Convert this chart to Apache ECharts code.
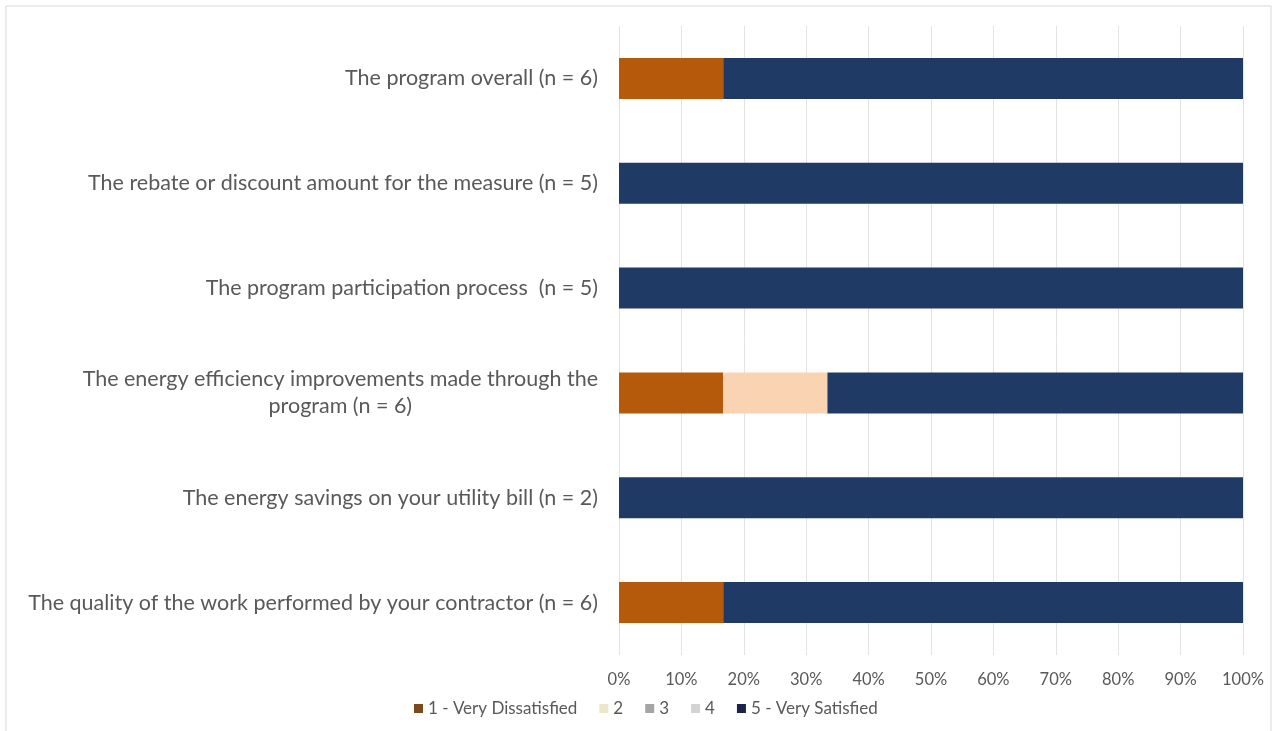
<!DOCTYPE html>
<html>
<head>
<meta charset="utf-8">
<style>
  html, body { margin: 0; padding: 0; background: #ffffff; }
  #chart { width: 1275px; height: 731px; }
</style>
<script src="https://cdn.jsdelivr.net/npm/echarts@6/dist/echarts.min.js"></script>
</head>
<body>
<div id="chart"></div>
<script>
// Satisfaction ratings by program aspect (share of respondents, %)
const categories = [
  'The program overall (n = 6)',
  'The rebate or discount amount for the measure (n = 5)',
  'The program participation process  (n = 5)',
  'The energy efficiency improvements made through the\nprogram (n = 6)',
  'The energy savings on your utility bill (n = 2)',
  'The quality of the work performed by your contractor (n = 6)'
];
const seriesNames = ['1 - Very Dissatisfied', '2', '3', '4', '5 - Very Satisfied'];
const veryDissatisfied = [16.7, 0, 0, 16.7, 0, 16.7];
const rating2 = [0, 0, 0, 16.7, 0, 0];
const rating3 = [0, 0, 0, 0, 0, 0];
const rating4 = [0, 0, 0, 0, 0, 0];
const verySatisfied = [83.3, 100, 100, 66.6, 100, 83.3];
const xTicks = [0, 10, 20, 30, 40, 50, 60, 70, 80, 90, 100];

const colors = ['#B5590B', '#F9D3B2', '#A5A5A5', '#D9D9D9', '#203A66'];
const legendColors = ['#7A4A1A', '#EDE6C8', '#A5A5A5', '#D3D3D3', '#1B2448'];
const values = [veryDissatisfied, rating2, rating3, rating4, verySatisfied];
const fontFamily = 'Lato, "Noto Sans", sans-serif';

const chart = echarts.init(document.getElementById('chart'));
chart.setOption({
  animation: false,
  backgroundColor: '#ffffff',
  textStyle: { fontFamily: fontFamily },
  graphic: [{
    type: 'rect',
    shape: { x: 6, y: 6, width: 1265, height: 740 },
    style: { fill: 'none', stroke: '#D9D9D9', lineWidth: 1 },
    silent: true
  }],
  grid: { left: 619, right: 32, top: 26, bottom: 76 },
  legend: {
    left: 409,
    top: 695,
    itemWidth: 9,
    itemHeight: 9,
    itemGap: 22,
    itemTextGap: 5,
    icon: 'rect',
    textStyle: { color: '#595959', fontSize: 17, fontFamily: fontFamily },
    data: seriesNames.map((n, i) => ({ name: n, itemStyle: { color: legendColors[i] } }))
  },
  xAxis: {
    type: 'value',
    min: xTicks[0],
    max: xTicks[xTicks.length - 1],
    interval: xTicks[1] - xTicks[0],
    axisLine: { show: false },
    axisTick: { show: false },
    axisLabel: {
      formatter: '{value}%',
      color: '#595959',
      fontSize: 16.5,
      margin: 16,
      fontFamily: fontFamily
    },
    splitLine: { show: true, lineStyle: { color: '#E3E3E3', width: 1 } }
  },
  yAxis: {
    type: 'category',
    inverse: true,
    data: categories,
    axisLine: { show: false },
    axisTick: { show: false },
    axisLabel: {
      margin: 21,
      formatter: v => '{c|' + v + '}',
      rich: {
        c: {
          color: '#595959',
          fontSize: 21.5,
          lineHeight: 27,
          align: 'center',
          fontFamily: fontFamily
        }
      }
    }
  },
  series: seriesNames.map((name, i) => ({
    name: name,
    type: 'bar',
    stack: 'total',
    barWidth: 41,
    itemStyle: { color: colors[i] },
    data: values[i]
  }))
});
</script>
</body>
</html>
